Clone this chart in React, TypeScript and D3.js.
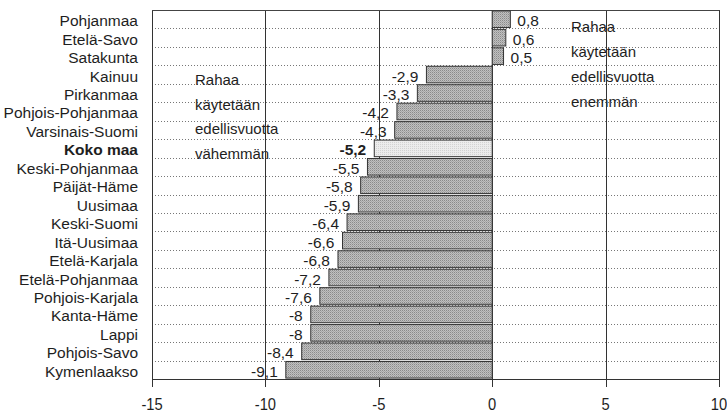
import React from "react";
import * as d3 from "d3";

const categories = [
  "Pohjanmaa", "Etelä-Savo", "Satakunta", "Kainuu", "Pirkanmaa",
  "Pohjois-Pohjanmaa", "Varsinais-Suomi", "Koko maa", "Keski-Pohjanmaa",
  "Päijät-Häme", "Uusimaa", "Keski-Suomi", "Itä-Uusimaa", "Etelä-Karjala",
  "Etelä-Pohjanmaa", "Pohjois-Karjala", "Kanta-Häme", "Lappi",
  "Pohjois-Savo", "Kymenlaakso",
];
const values = [
  0.8, 0.6, 0.5, -2.9, -3.3, -4.2, -4.3, -5.2, -5.5, -5.8, -5.9, -6.4,
  -6.6, -6.8, -7.2, -7.6, -8, -8, -8.4, -9.1,
];
const highlight = "Koko maa";
const xTicks = [-15, -10, -5, 0, 5, 10];
const leftNote = ["Rahaa", "käytetään", "edellisvuotta", "vähemmän"];
const rightNote = ["Rahaa", "käytetään", "edellisvuotta", "enemmän"];

const W = 727;
const H = 412;
const M = { left: 152, right: 719, top: 10, bottom: 379 };
const FONT = "'Liberation Sans', Arial, sans-serif";
const INK = "#1e1e1e";

export default function App() {
  const x = d3.scaleLinear().domain([-15, 10]).range([M.left, M.right]);
  const y = d3
    .scaleBand<string>()
    .domain(categories)
    .range([M.top, M.bottom])
    .paddingInner(0.1)
    .paddingOuter(0.05);
  const step = y.step();
  const bw = y.bandwidth();
  const fmt = (v: number) => String(v).replace(".", ",");

  return (
    <div style={{ position: "absolute", left: 0, top: 0 }}>
      <svg width={W} height={H} style={{ display: "block", background: "#fff" }}>
        <defs>
          <pattern id="dots" width="2" height="2" patternUnits="userSpaceOnUse">
            <rect width="2" height="2" fill="#c0c0c0" />
            <rect width="1" height="1" fill="#8a8a8a" />
            <rect x="1" y="1" width="1" height="1" fill="#a6a6a6" />
          </pattern>
          <pattern id="dotsLight" width="2" height="2" patternUnits="userSpaceOnUse">
            <rect width="2" height="2" fill="#ececec" />
            <rect width="1" height="1" fill="#d2d2d2" />
          </pattern>
        </defs>

        {/* dotted horizontal gridlines between bands */}
        {categories.slice(1).map((c) => {
          const yy = Math.round((y(c) as number) - (step - bw) / 2) + 0.5;
          return (
            <line
              key={"g" + c}
              x1={M.left}
              x2={M.right}
              y1={yy}
              y2={yy}
              stroke="#777"
              strokeWidth={1}
              strokeDasharray="1,2"
            />
          );
        })}

        {/* annotations */}
        {leftNote.map((t, i) => (
          <text
            key={"ln" + i}
            x={195}
            y={85 + i * 24.7}
            fontFamily={FONT}
            fontSize={15}
            fill={INK}
          >
            {t}
          </text>
        ))}
        {rightNote.map((t, i) => (
          <text
            key={"rn" + i}
            x={571}
            y={31.5 + i * 25}
            fontFamily={FONT}
            fontSize={15}
            fill={INK}
          >
            {t}
          </text>
        ))}

        {/* vertical solid gridlines */}
        {xTicks.map((t) => (
          <line
            key={"v" + t}
            x1={Math.round(x(t)) + 0.5}
            x2={Math.round(x(t)) + 0.5}
            y1={M.top}
            y2={M.bottom}
            stroke="#333"
            strokeWidth={1}
          />
        ))}
        <line x1={M.left} x2={M.right + 0.5} y1={M.top + 0.5} y2={M.top + 0.5} stroke="#444" />

        {/* bars */}
        {categories.map((c, i) => {
          const v = values[i];
          const x0 = x(Math.min(0, v));
          const x1 = x(Math.max(0, v));
          const yy = y(c) as number;
          const hl = c === highlight;
          return (
            <rect
              key={"b" + c}
              x={x0}
              y={yy}
              width={x1 - x0}
              height={bw}
              fill={hl ? "url(#dotsLight)" : "url(#dots)"}
              stroke="#333"
              strokeWidth={1}
            />
          );
        })}

        {/* value labels */}
        {categories.map((c, i) => {
          const v = values[i];
          const yy = (y(c) as number) + bw / 2 + 7;
          const hl = c === highlight;
          return (
            <text
              key={"vl" + c}
              x={v < 0 ? x(v) - 8 : x(v) + 7}
              y={yy}
              textAnchor={v < 0 ? "end" : "start"}
              fontFamily={FONT}
              fontSize={15.5}
              fontWeight={hl ? "bold" : "normal"}
              fill={INK}
            >
              {fmt(v)}
            </text>
          );
        })}

        {/* category labels */}
        {categories.map((c) => (
          <text
            key={"cl" + c}
            x={138}
            y={(y(c) as number) + bw / 2 + 7}
            textAnchor="end"
            fontFamily={FONT}
            fontSize={15.5}
            fontWeight={c === highlight ? "bold" : "normal"}
            fill={INK}
          >
            {c}
          </text>
        ))}

        {/* x axis */}
        <line x1={M.left} x2={M.right + 0.5} y1={M.bottom + 0.5} y2={M.bottom + 0.5} stroke="#333" />
        {xTicks.map((t) => (
          <g key={"t" + t}>
            <line
              x1={Math.round(x(t)) + 0.5}
              x2={Math.round(x(t)) + 0.5}
              y1={M.bottom}
              y2={M.bottom + 8}
              stroke="#333"
            />
            <g transform={`translate(${x(t)},410) scale(0.92,1)`}>
              <text
                x={0}
                y={0}
                textAnchor="middle"
                fontFamily={FONT}
                fontSize={16}
                fill={INK}
              >
                {t}
              </text>
            </g>
          </g>
        ))}
      </svg>
    </div>
  );
}
